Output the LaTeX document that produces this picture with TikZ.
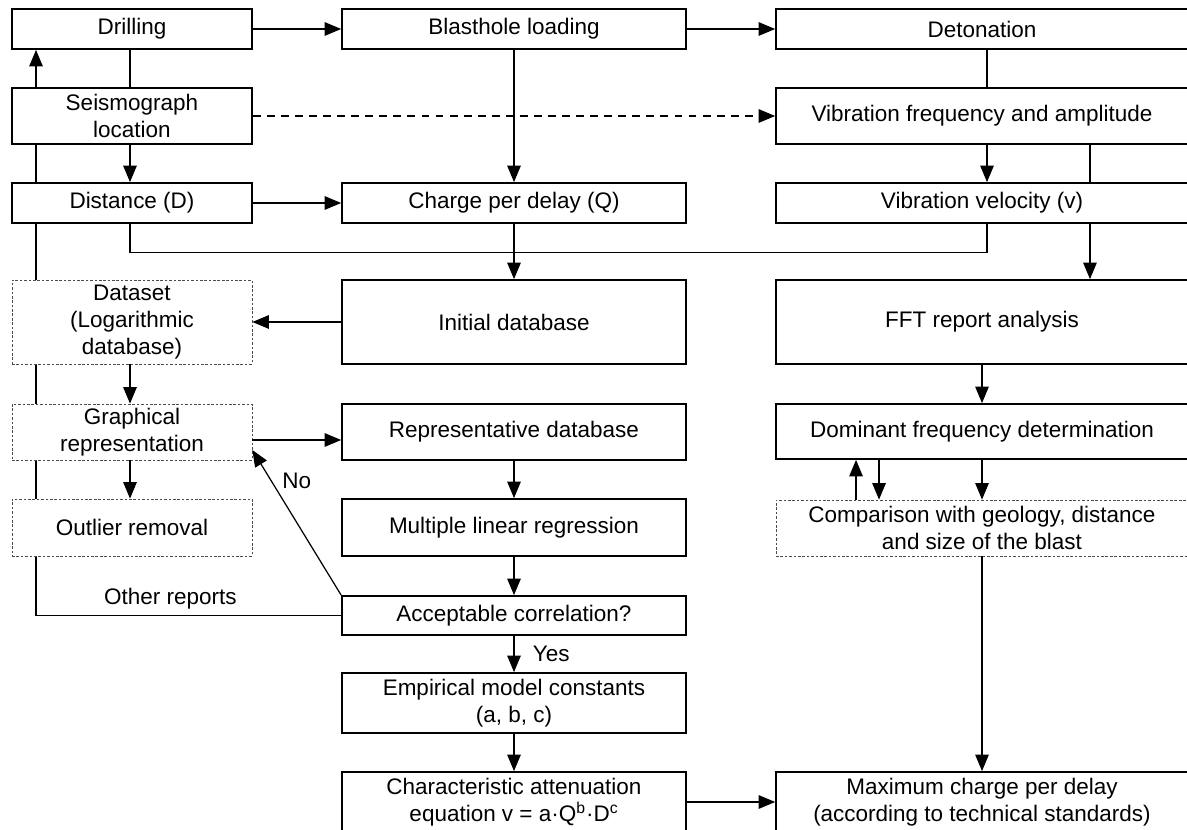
\documentclass[tikz,border=0pt]{standalone}
\usepackage{fontspec}
\setmainfont{Liberation Sans}
\usetikzlibrary{positioning, arrows.meta, backgrounds}

\begin{document}
\begin{tikzpicture}[x=0.02cm, y=-0.02cm,
  font=\fontsize{12.8}{15.5}\selectfont,
  box/.style={rectangle, draw=black, line width=1pt, fill=white, align=center, inner sep=2pt},
  dbox/.style={box, draw=black!70, line width=0.45pt, dash pattern=on 1.5pt off 1pt},
  arr/.style={-{Triangle[length=0.33cm, width=0.27cm]}, line width=0.7pt},
  con/.style={line width=0.7pt}]

\useasboundingbox (0,0) rectangle (1187,830);
\clip (0,0) rectangle (1187,830);

% Left column
\node[box, minimum width=4.8cm, minimum height=0.8cm] (drill) at (132,29) {Drilling};
\node[box, minimum width=4.8cm, minimum height=1.12cm] (seis) at (132,116) {Seismograph\\location};
\node[box, minimum width=4.8cm, minimum height=0.8cm] (dist) at (132,203) {Distance (D)};
\node[dbox, minimum width=4.8cm, minimum height=1.68cm] (dataset) at (132,322) {Dataset\\(Logarithmic\\database)};
\node[dbox, minimum width=4.8cm, minimum height=1.12cm] (graph) at (132,432) {Graphical\\representation};
\node[dbox, minimum width=4.8cm, minimum height=1.14cm] (outlier) at (132,527.5) {Outlier removal};

% Middle column
\node[box, minimum width=6.88cm, minimum height=0.8cm] (blast) at (514,29) {Blasthole loading};
\node[box, minimum width=6.88cm, minimum height=0.8cm] (charge) at (514,203) {Charge per delay (Q)};
\node[box, minimum width=6.88cm, minimum height=1.68cm] (init) at (514,322) {Initial database};
\node[box, minimum width=6.88cm, minimum height=1.12cm] (rep) at (514,432) {Representative database};
\node[box, minimum width=6.88cm, minimum height=1.14cm] (mult) at (514,527.5) {Multiple linear regression};
\node[box, minimum width=6.88cm, minimum height=0.78cm] (accept) at (514,615.5) {Acceptable correlation?};
\node[box, minimum width=6.88cm, minimum height=1.2cm] (emp) at (514,703) {Empirical model constants\\(a, b, c)};
\node[box, minimum width=6.88cm, minimum height=1.2cm] (charact) at (514,802) {Characteristic attenuation\\equation v = a·Q\textsuperscript{b}·D\textsuperscript{c}};

% Right column
\node[box, minimum width=8.24cm, minimum height=0.8cm] (deton) at (982,29) {Detonation};
\node[box, minimum width=8.24cm, minimum height=1.12cm] (vibf) at (982,116) {Vibration frequency and amplitude};
\node[box, minimum width=8.24cm, minimum height=0.8cm] (vel) at (982,203) {Vibration velocity (v)};
\node[box, minimum width=8.24cm, minimum height=1.68cm] (fft) at (982,322) {FFT report analysis};
\node[box, minimum width=8.24cm, minimum height=1.1cm] (dom) at (982,431.5) {Dominant frequency determination};
\node[dbox, minimum width=8.24cm, minimum height=1.12cm] (comp) at (982,528) {Comparison with geology, distance\\and size of the blast};
\node[box, minimum width=8.24cm, minimum height=1.2cm] (maxch) at (982,802) {Maximum charge per delay\\(according to technical standards)};

% Lines running behind the boxes
\begin{scope}[on background layer]
\draw[arr] (accept.west) -| node[pos=0.28, above] {Other reports} ([xshift=-1.92cm]drill.south);
\draw[arr] ([xshift=2.16cm]vibf.south) -- ([xshift=2.16cm]fft.north);
\end{scope}

% Top row flow
\draw[arr] (drill) -- (blast);
\draw[arr] (blast) -- (deton);
\draw[con] ([xshift=-0.04cm]drill.south) -- ([xshift=-0.04cm]seis.north);
\draw[arr] ([xshift=-0.04cm]seis.south) -- ([xshift=-0.04cm]dist.north);
\draw[arr, dash pattern=on 4.5pt off 3.5pt] (seis) -- (vibf);
\draw[arr] (dist) -- (charge);
\draw[arr] (blast) -- (charge);
\draw[con] ([xshift=0.1cm]deton.south) -- ([xshift=0.1cm]vibf.north);
\draw[arr] ([xshift=0.1cm]vibf.south) -- ([xshift=0.1cm]vel.north);
\draw[con] ([xshift=-0.04cm]dist.south) -- ++(0,29) -| ([xshift=0.1cm]vel.south);

% Regression branch
\draw[arr] (charge) -- (init);
\draw[arr] (init) -- (dataset);
\draw[arr] ([xshift=-0.04cm]dataset.south) -- ([xshift=-0.04cm]graph.north);
\draw[arr] ([yshift=-0.16cm]graph.east) -- ([yshift=-0.16cm]rep.west);
\draw[arr] ([xshift=-0.04cm]graph.south) -- ([xshift=-0.04cm]outlier.north);
\draw[arr] (rep) -- (mult);
\draw[arr] (mult) -- (accept);
\draw[arr] (accept.north west) -- node[pos=0.79, right, xshift=0.1cm] {No} ([yshift=-0.36cm]graph.east);
\draw[arr] (accept) -- node[right, xshift=0.25cm] {Yes} (emp);
\draw[arr] (emp) -- (charact);
\draw[arr] (charact) -- (maxch);

% Frequency branch
\draw[arr] (fft) -- (dom);
\draw[arr] ([xshift=-2.52cm]comp.north) -- ([xshift=-2.52cm]dom.south);
\draw[arr] ([xshift=-2.06cm]dom.south) -- ([xshift=-2.06cm]comp.north);
\draw[arr] (dom) -- (comp);
\draw[arr] (comp) -- (maxch);

\end{tikzpicture}
\end{document}
